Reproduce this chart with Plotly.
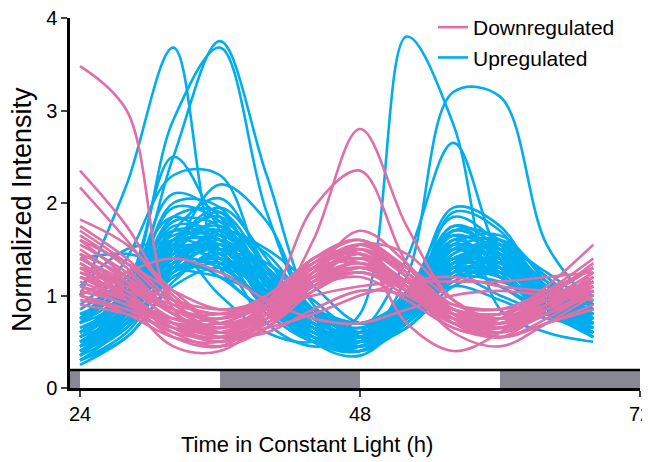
import plotly.graph_objects as go

# Sampling times (h in constant light)
time_h = [24, 28, 32, 36, 40, 44, 48, 52, 56, 60, 64, 68]

# Upregulated (blue) profiles, normalized intensity at time_h
up_profiles = [
    [1.00, 2.20, 3.68, 1.30, 0.85, 0.65, 0.55, 0.80, 1.10, 0.95, 0.75, 0.70],
    [0.70, 1.00, 2.50, 3.75, 2.30, 0.90, 0.60, 0.80, 1.20, 1.00, 0.80, 0.70],
    [0.80, 1.10, 2.90, 3.68, 1.90, 0.80, 0.55, 0.90, 1.30, 1.10, 0.85, 0.75],
    [0.75, 1.20, 1.50, 1.00, 0.60, 0.50, 0.80, 3.80, 2.85, 0.85, 0.60, 0.50],
    [0.60, 0.90, 1.40, 1.20, 0.80, 0.50, 0.50, 1.20, 3.20, 3.15, 1.55, 0.90],
    [0.50, 0.80, 1.60, 1.40, 0.70, 0.45, 0.60, 1.40, 2.65, 1.40, 0.80, 0.65],
    [0.60, 1.10, 2.50, 1.70, 0.90, 0.60, 0.50, 0.80, 1.30, 1.10, 0.80, 0.70],
    [0.70, 1.40, 2.30, 2.30, 1.20, 0.70, 0.50, 0.90, 1.50, 1.20, 0.90, 0.80],
    [0.50, 0.80, 1.50, 2.20, 1.80, 0.80, 0.50, 0.80, 1.40, 1.30, 0.90, 0.70],
    [1.10, 1.50, 1.60, 1.90, 1.30, 0.80, 0.60, 0.90, 1.50, 1.30, 1.00, 0.90],
    [0.60, 0.90, 1.30, 1.70, 1.50, 1.10, 0.70, 0.80, 1.30, 1.40, 1.00, 0.80],
    [0.40, 0.75, 1.70, 2.05, 1.30, 0.60, 0.45, 0.80, 1.60, 1.50, 0.95, 0.70],
    [0.35, 0.90, 1.85, 1.90, 1.10, 0.55, 0.40, 0.90, 1.75, 1.40, 0.85, 0.60],
    [0.55, 0.95, 1.95, 1.80, 1.00, 0.60, 0.50, 1.00, 1.85, 1.55, 1.00, 0.75],
    [0.30, 0.70, 1.55, 1.75, 1.20, 0.70, 0.45, 0.75, 1.50, 1.60, 1.10, 0.80],
    [0.60, 1.00, 1.65, 1.60, 0.95, 0.55, 0.50, 0.95, 1.70, 1.45, 0.90, 0.65],
    [0.45, 0.80, 1.50, 1.70, 1.25, 0.75, 0.55, 0.85, 1.45, 1.50, 1.05, 0.85],
    [0.70, 1.10, 1.60, 1.55, 1.05, 0.70, 0.60, 0.90, 1.40, 1.35, 0.95, 0.80],
    [0.50, 0.85, 1.45, 1.55, 1.15, 0.80, 0.65, 0.85, 1.30, 1.35, 1.05, 0.90],
    [0.35, 0.65, 1.35, 1.65, 1.20, 0.65, 0.40, 0.70, 1.35, 1.45, 0.95, 0.55],
    [0.80, 1.05, 1.50, 1.45, 1.00, 0.75, 0.65, 0.95, 1.35, 1.25, 1.00, 0.90],
    [0.45, 0.75, 1.40, 1.50, 1.05, 0.60, 0.50, 0.80, 1.55, 1.65, 1.15, 0.75],
    [0.65, 0.95, 1.75, 1.65, 0.90, 0.50, 0.45, 0.85, 1.60, 1.30, 0.80, 0.60],
    [0.30, 0.60, 1.25, 1.55, 1.30, 0.80, 0.50, 0.65, 1.20, 1.40, 1.10, 0.70],
    [0.55, 0.90, 1.30, 1.35, 1.10, 0.85, 0.70, 0.80, 1.20, 1.25, 1.05, 0.95],
    [0.40, 0.85, 2.00, 1.95, 1.00, 0.55, 0.40, 0.75, 1.90, 1.70, 0.95, 0.60],
    [0.75, 1.20, 1.85, 1.50, 0.85, 0.60, 0.55, 1.05, 1.65, 1.20, 0.85, 0.75],
    [0.50, 0.70, 1.20, 1.45, 1.35, 0.95, 0.60, 0.70, 1.25, 1.50, 1.25, 0.85],
    [0.60, 1.00, 1.40, 1.30, 0.95, 0.70, 0.60, 0.90, 1.30, 1.20, 0.95, 0.85],
    [0.35, 0.80, 1.60, 1.85, 1.15, 0.50, 0.35, 0.80, 1.70, 1.60, 0.90, 0.55],
    [0.90, 1.25, 1.55, 1.35, 0.90, 0.65, 0.60, 0.95, 1.40, 1.20, 0.95, 0.95],
    [0.45, 0.75, 1.55, 1.95, 1.40, 0.70, 0.45, 0.75, 1.45, 1.55, 1.05, 0.70],
    [0.55, 0.80, 1.35, 1.60, 1.25, 0.75, 0.55, 0.80, 1.40, 1.45, 1.00, 0.75],
    [0.65, 0.90, 1.25, 1.40, 1.15, 0.80, 0.60, 0.75, 1.15, 1.30, 1.10, 0.90],
    [0.40, 0.70, 1.45, 1.80, 1.30, 0.65, 0.45, 0.85, 1.65, 1.40, 0.85, 0.60],
    [0.70, 1.15, 1.70, 1.45, 0.85, 0.55, 0.55, 1.00, 1.55, 1.25, 0.80, 0.70],
    [0.30, 0.55, 1.15, 1.50, 1.35, 0.85, 0.55, 0.70, 1.30, 1.55, 1.20, 0.75],
    [0.55, 0.95, 1.60, 1.70, 1.10, 0.60, 0.45, 0.90, 1.95, 1.75, 1.00, 0.65],
    [0.85, 1.15, 1.45, 1.40, 1.05, 0.80, 0.70, 0.95, 1.30, 1.25, 1.05, 1.00],
    [0.50, 0.85, 1.55, 1.60, 1.05, 0.60, 0.50, 0.85, 1.60, 1.55, 1.00, 0.80],
    [0.40, 0.65, 1.30, 1.70, 1.45, 0.85, 0.55, 0.70, 1.35, 1.60, 1.20, 0.80],
    [0.60, 0.95, 1.50, 1.50, 1.00, 0.65, 0.55, 0.85, 1.50, 1.40, 0.95, 0.75],
    [0.35, 0.80, 1.70, 1.60, 0.95, 0.50, 0.40, 0.85, 1.75, 1.50, 0.85, 0.55],
    [0.75, 1.05, 1.35, 1.50, 1.20, 0.85, 0.70, 0.85, 1.25, 1.35, 1.10, 1.00],
    [0.45, 0.70, 1.20, 1.35, 1.15, 0.75, 0.50, 0.75, 1.35, 1.35, 1.00, 0.70],
    [1.40, 1.45, 1.30, 1.20, 1.00, 0.80, 0.70, 0.90, 1.20, 1.15, 0.95, 0.85],
    [0.50, 0.90, 1.80, 1.75, 1.00, 0.55, 0.50, 0.90, 1.70, 1.45, 0.90, 0.70],
    [0.60, 0.85, 1.40, 1.65, 1.30, 0.80, 0.60, 0.80, 1.40, 1.50, 1.15, 0.90],
    [0.25, 0.55, 1.10, 1.30, 1.05, 0.65, 0.45, 0.65, 1.10, 1.25, 0.95, 0.60],
    [0.45, 1.00, 2.10, 1.85, 0.95, 0.55, 0.45, 0.80, 1.55, 1.35, 0.85, 0.60],
    [0.70, 1.00, 1.30, 1.25, 0.95, 0.70, 0.60, 0.85, 1.25, 1.20, 0.95, 0.85],
]

# Downregulated (pink) profiles
down_profiles = [
    [3.48, 3.00, 0.85, 0.60, 0.80, 1.15, 1.35, 1.10, 0.80, 0.80, 1.00, 1.15],
    [1.00, 0.85, 0.60, 0.55, 0.75, 1.60, 2.80, 1.75, 0.95, 0.75, 0.85, 1.00],
    [1.20, 0.95, 0.70, 0.60, 0.90, 1.95, 2.35, 1.35, 0.80, 0.65, 0.80, 1.05],
    [2.35, 1.75, 0.95, 0.60, 0.70, 1.10, 1.30, 1.05, 0.70, 0.65, 0.90, 1.20],
    [2.17, 1.60, 1.00, 0.70, 0.75, 1.05, 1.25, 1.00, 0.75, 0.75, 0.95, 1.10],
    [1.82, 1.55, 1.05, 0.70, 0.75, 1.20, 1.45, 1.10, 0.70, 0.60, 0.85, 1.25],
    [1.00, 1.25, 1.40, 1.25, 0.95, 0.75, 0.70, 0.85, 1.00, 1.05, 1.00, 0.95],
    [1.10, 0.90, 0.70, 0.65, 0.85, 1.25, 1.40, 1.05, 0.70, 0.75, 1.10, 1.55],
    [1.30, 0.95, 0.55, 0.45, 0.80, 1.40, 1.45, 0.70, 0.40, 0.60, 1.00, 1.30],
    [1.45, 0.95, 0.45, 0.40, 0.75, 1.30, 1.55, 1.20, 0.70, 0.55, 0.85, 1.15],
    [1.60, 1.20, 0.80, 0.65, 0.90, 1.40, 1.60, 1.20, 0.75, 0.65, 0.90, 1.20],
    [1.40, 1.10, 0.75, 0.70, 0.95, 1.35, 1.50, 1.10, 0.70, 0.70, 0.95, 1.25],
    [1.25, 1.00, 0.70, 0.60, 0.85, 1.30, 1.45, 1.05, 0.65, 0.60, 0.85, 1.10],
    [1.70, 1.35, 0.90, 0.70, 0.85, 1.25, 1.40, 1.15, 0.85, 0.80, 1.00, 1.30],
    [1.15, 0.95, 0.75, 0.75, 1.00, 1.35, 1.45, 1.15, 0.80, 0.75, 0.95, 1.15],
    [1.35, 1.05, 0.65, 0.50, 0.70, 1.20, 1.50, 1.25, 0.80, 0.60, 0.80, 1.05],
    [1.55, 1.25, 0.85, 0.75, 0.95, 1.30, 1.35, 1.05, 0.75, 0.70, 0.90, 1.15],
    [0.95, 0.85, 0.70, 0.70, 0.90, 1.20, 1.35, 1.15, 0.85, 0.75, 0.90, 1.05],
    [1.30, 1.10, 0.80, 0.60, 0.75, 1.15, 1.55, 1.45, 0.95, 0.65, 0.80, 1.10],
    [1.45, 1.20, 0.85, 0.65, 0.80, 1.25, 1.70, 1.35, 0.80, 0.55, 0.75, 1.05],
    [1.20, 1.05, 0.85, 0.75, 0.90, 1.15, 1.25, 1.10, 0.90, 0.85, 0.95, 1.10],
    [1.65, 1.30, 0.80, 0.55, 0.70, 1.10, 1.40, 1.30, 0.95, 0.70, 0.85, 1.20],
    [1.05, 0.90, 0.65, 0.55, 0.85, 1.35, 1.60, 1.25, 0.75, 0.55, 0.70, 0.90],
    [1.50, 1.15, 0.70, 0.50, 0.65, 1.05, 1.30, 1.15, 0.85, 0.80, 1.00, 1.35],
    [1.30, 1.15, 0.95, 0.85, 0.95, 1.20, 1.30, 1.10, 0.85, 0.80, 0.95, 1.05],
    [1.10, 0.95, 0.75, 0.65, 0.80, 1.10, 1.25, 1.05, 0.80, 0.80, 1.05, 1.40],
    [1.75, 1.40, 0.95, 0.80, 0.95, 1.30, 1.50, 1.20, 0.80, 0.70, 0.90, 1.15],
    [1.35, 1.00, 0.60, 0.45, 0.65, 1.15, 1.45, 1.10, 0.60, 0.45, 0.70, 1.00],
    [1.25, 1.10, 0.90, 0.80, 0.85, 1.00, 1.10, 1.15, 1.15, 1.15, 1.20, 1.25],
    [1.45, 1.20, 0.80, 0.60, 0.65, 0.80, 1.00, 1.15, 1.20, 1.10, 1.05, 1.05],
    [1.00, 0.80, 0.55, 0.50, 0.75, 1.25, 1.55, 1.30, 0.85, 0.70, 0.90, 1.20],
    [1.60, 1.35, 1.05, 0.85, 0.90, 1.15, 1.30, 1.05, 0.70, 0.60, 0.80, 1.00],
    [0.90, 0.80, 0.65, 0.60, 0.80, 1.10, 1.20, 0.95, 0.65, 0.55, 0.70, 0.85],
    [1.40, 1.15, 0.85, 0.80, 1.00, 1.40, 1.60, 1.30, 0.90, 0.85, 1.05, 1.30],
    [1.20, 1.00, 0.70, 0.55, 0.60, 0.85, 1.05, 1.00, 0.75, 0.65, 0.85, 1.15],
]

# Light/dark schedule bar (subjective day = white, subjective night = grey)
phase_start = [23.14, 24, 36, 48, 60]
phase_end = [24, 36, 48, 60, 72]
phase_is_dark = [True, False, True, False, True]
bar_top = 0.195

x_ticks = [24, 48, 72]
y_ticks = [0, 1, 2, 3, 4]

BLUE = "#00ADEE"
PINK = "#DF6FA6"
FONT = "Liberation Sans, Arial, sans-serif"

# figure is placed by the page with an 8 px body margin; plot area spans 570 x 370 px
W, H = 642, 454
L, R, T, B = 62, 10, 10, 74
PW, PH = W - L - R, H - T - B


def px_x(fig_x):
    return (fig_x - L) / PW


def px_y(fig_y):
    return (H - B - fig_y) / PH


fig = go.Figure()

for i, prof in enumerate(up_profiles):
    fig.add_trace(go.Scatter(
        x=time_h, y=prof, mode="lines",
        line=dict(color=BLUE, width=2.6, shape="spline", smoothing=1.0),
        name="Upregulated", legendgroup="up", showlegend=(i == 0),
        legendrank=2, hoverinfo="skip"))

for i, prof in enumerate(down_profiles):
    fig.add_trace(go.Scatter(
        x=time_h, y=prof, mode="lines",
        line=dict(color=PINK, width=2.6, shape="spline", smoothing=1.0),
        name="Downregulated", legendgroup="down", showlegend=(i == 0),
        legendrank=1, hoverinfo="skip"))

shapes = []
for s, e, dark in zip(phase_start, phase_end, phase_is_dark):
    shapes.append(dict(type="rect", xref="x", yref="y", x0=s, x1=e, y0=0, y1=bar_top,
                       fillcolor="#878891" if dark else "white", line=dict(width=0),
                       layer="below"))
shapes.append(dict(type="line", xref="x", yref="y", x0=phase_start[0], x1=phase_end[-1],
                   y0=bar_top, y1=bar_top, line=dict(color="black", width=2.5)))

fig.update_layout(
    width=W, height=H,
    margin=dict(l=L, r=R, t=T, b=B, autoexpand=False),
    paper_bgcolor="white", plot_bgcolor="white",
    font=dict(family=FONT, color="black", size=20),
    shapes=shapes,
    showlegend=True,
    legend=dict(x=px_x(425), xanchor="left", y=px_y(-1), yanchor="top",
                font=dict(size=21, family=FONT), bgcolor="rgba(0,0,0,0)",
                tracegroupgap=0, itemwidth=30),
    annotations=[
        dict(text="Normalized Intensity", xref="paper", yref="paper",
             x=px_x(14), y=px_y(202), textangle=-90, showarrow=False,
             font=dict(size=27, family=FONT), xanchor="center", yanchor="middle"),
        dict(text="Time in Constant Light (h)", xref="paper", yref="paper",
             x=px_x(299), y=px_y(436), showarrow=False,
             font=dict(size=22, family=FONT), xanchor="center", yanchor="middle"),
    ],
)

fig.update_xaxes(range=[23.14, 72], tickvals=x_ticks, ticks="outside", ticklen=6, tickwidth=2,
                 showline=True, linecolor="black", linewidth=2.5, showgrid=False, zeroline=False,
                 tickfont=dict(size=20, family=FONT), automargin=False, ticklabeloverflow="allow")
fig.update_yaxes(range=[0, 4], tickvals=y_ticks, ticks="outside", ticklen=6, tickwidth=2,
                 showline=True, linecolor="black", linewidth=2.5, showgrid=False, zeroline=False,
                 tickfont=dict(size=20, family=FONT), automargin=False, ticklabeloverflow="allow")

fig.write_html("out.html")
